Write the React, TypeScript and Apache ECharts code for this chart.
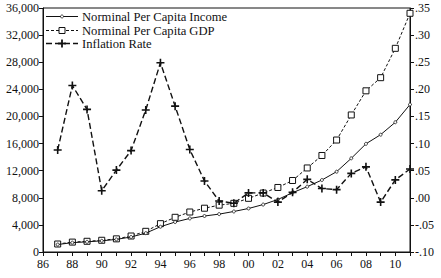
import React, { useEffect, useRef } from "react";
import * as echarts from "echarts";

const years = [
  1987, 1988, 1989, 1990, 1991, 1992, 1993, 1994, 1995, 1996, 1997, 1998, 1999,
  2000, 2001, 2002, 2003, 2004, 2005, 2006, 2007, 2008, 2009, 2010, 2011,
];
const perCapitaIncome = [
  1100, 1380, 1500, 1650, 1860, 2220, 2780, 3730, 4420, 4950, 5310, 5590, 5980,
  6420, 7000, 7750, 8750, 9640, 10620, 11850, 13820, 15960, 17310, 19140, 21760,
];
const perCapitaGDP = [
  1180, 1460, 1580, 1730, 1940, 2360, 3050, 4180, 5120, 5900, 6460, 6910, 7180,
  7920, 8700, 9520, 10550, 12400, 14240, 16520, 20220, 23780, 25720, 30050, 35220,
];
const inflationRate = [
  0.088, 0.207, 0.163, 0.013, 0.051, 0.087, 0.162, 0.249, 0.169, 0.089, 0.031,
  -0.006, -0.01, 0.009, 0.009, -0.008, 0.01, 0.034, 0.017, 0.015, 0.045, 0.057,
  -0.008, 0.033, 0.053,
];
const seriesNames = [
  "Norminal Per Capita Income",
  "Norminal Per Capita GDP",
  "Inflation Rate",
];

const FONT = "Liberation Serif";
const INK = "#111";
const PLUS = "path://M3.6,0h1.8v3.6h3.6v1.8h-3.6v3.6h-1.8v-3.6h-3.6v-1.8h3.6z";
const GDP_DASH = [3, 2];
const INFL_DASH = [6, 3];

// Hand-built legend so the key symbols stay as small as the plotted markers.
function legendGraphics() {
  const x0 = 46;
  const x1 = 78;
  const xm = (x0 + x1) / 2;
  const rows = [16.5, 30.5, 43.5];
  const els: any[] = [];
  const font = `12.6px "${FONT}"`;
  // income: solid line, small hollow dot
  els.push(
    { type: "line", shape: { x1: x0, y1: rows[0], x2: x1, y2: rows[0] }, style: { stroke: INK, lineWidth: 1 } },
    { type: "circle", shape: { cx: xm, cy: rows[0], r: 1.5 }, style: { fill: "#fff", stroke: INK, lineWidth: 0.8 } },
  );
  // GDP: dashed line, hollow square
  els.push(
    { type: "line", shape: { x1: x0, y1: rows[1], x2: x1, y2: rows[1] }, style: { stroke: INK, lineWidth: 1, lineDash: GDP_DASH } },
    { type: "rect", shape: { x: xm - 3, y: rows[1] - 3, width: 6, height: 6 }, style: { fill: "#fff", stroke: INK, lineWidth: 1 } },
  );
  // inflation: long dashes, plus marker
  els.push(
    { type: "line", shape: { x1: x0, y1: rows[2], x2: x1, y2: rows[2] }, style: { stroke: INK, lineWidth: 1.4, lineDash: INFL_DASH } },
    { type: "rect", shape: { x: xm - 4, y: rows[2] - 0.9, width: 8, height: 1.8 }, style: { fill: INK } },
    { type: "rect", shape: { x: xm - 0.9, y: rows[2] - 4, width: 1.8, height: 8 }, style: { fill: INK } },
  );
  seriesNames.forEach((name, i) => {
    els.push({
      type: "text",
      x: x1 + 4,
      y: rows[i],
      style: { text: name, font, fill: INK, verticalAlign: "middle", align: "left" },
    });
  });
  return els.map((e) => ({ ...e, z: 100 }));
}

export default function App() {
  const ref = useRef<HTMLDivElement>(null);

  useEffect(() => {
    if (!ref.current) return;
    const chart = echarts.init(ref.current, undefined, { renderer: "svg" });
    const pair = (vals: number[]) => years.map((y, i) => [y, vals[i]]);
    const textStyle = { fontFamily: FONT, fontSize: 12, color: INK };

    chart.setOption({
      animation: false,
      backgroundColor: "#fff",
      textStyle: { fontFamily: FONT },
      grid: {
        left: 43,
        right: 31,
        top: 8,
        bottom: 26,
        show: true,
        borderColor: INK,
        borderWidth: 1,
        backgroundColor: "transparent",
      },
      graphic: legendGraphics(),
      xAxis: {
        type: "value",
        min: 1986,
        max: 2011,
        interval: 1,
        axisLine: { lineStyle: { color: INK } },
        axisTick: { show: true, length: 4, lineStyle: { color: INK } },
        splitLine: { show: false },
        axisLabel: {
          ...textStyle,
          margin: 6,
          formatter: (v: number) =>
            v % 2 === 0 ? String(v % 100).padStart(2, "0") : "",
        },
      },
      yAxis: [
        {
          type: "value",
          min: 0,
          max: 36000,
          interval: 4000,
          axisLine: { show: true, lineStyle: { color: INK } },
          axisTick: { show: true, length: 4, lineStyle: { color: INK } },
          splitLine: { show: false },
          axisLabel: {
            ...textStyle,
            margin: 4,
            formatter: (v: number) => v.toLocaleString("en-US"),
          },
        },
        {
          type: "value",
          min: -0.1,
          max: 0.35,
          interval: 0.05,
          axisLine: { show: true, lineStyle: { color: INK } },
          axisTick: { show: true, length: 4, lineStyle: { color: INK } },
          splitLine: { show: false },
          axisLabel: {
            ...textStyle,
            margin: 5,
            formatter: (v: number) =>
              (Math.round(v * 100) / 100).toFixed(2).replace("0.", "."),
          },
        },
      ],
      series: [
        {
          name: seriesNames[0],
          type: "line",
          data: pair(perCapitaIncome),
          symbol: "circle",
          symbolSize: 3,
          lineStyle: { color: INK, width: 1 },
          itemStyle: { color: "#fff", borderColor: INK, borderWidth: 0.8 },
          z: 3,
        },
        {
          name: seriesNames[1],
          type: "line",
          data: pair(perCapitaGDP),
          symbol: "rect",
          symbolSize: 6,
          lineStyle: { color: INK, width: 1, type: GDP_DASH },
          itemStyle: { color: "#fff", borderColor: INK, borderWidth: 1 },
          z: 2,
        },
        {
          name: seriesNames[2],
          type: "line",
          yAxisIndex: 1,
          data: pair(inflationRate),
          symbol: PLUS,
          symbolSize: 8,
          lineStyle: { color: INK, width: 1.4, type: INFL_DASH },
          itemStyle: { color: INK, borderWidth: 0 },
          z: 4,
        },
      ],
    });

    return () => chart.dispose();
  }, []);

  return (
    <div
      ref={ref}
      style={{ width: 441, height: 278, position: "absolute", left: 0, top: 0 }}
    />
  );
}
